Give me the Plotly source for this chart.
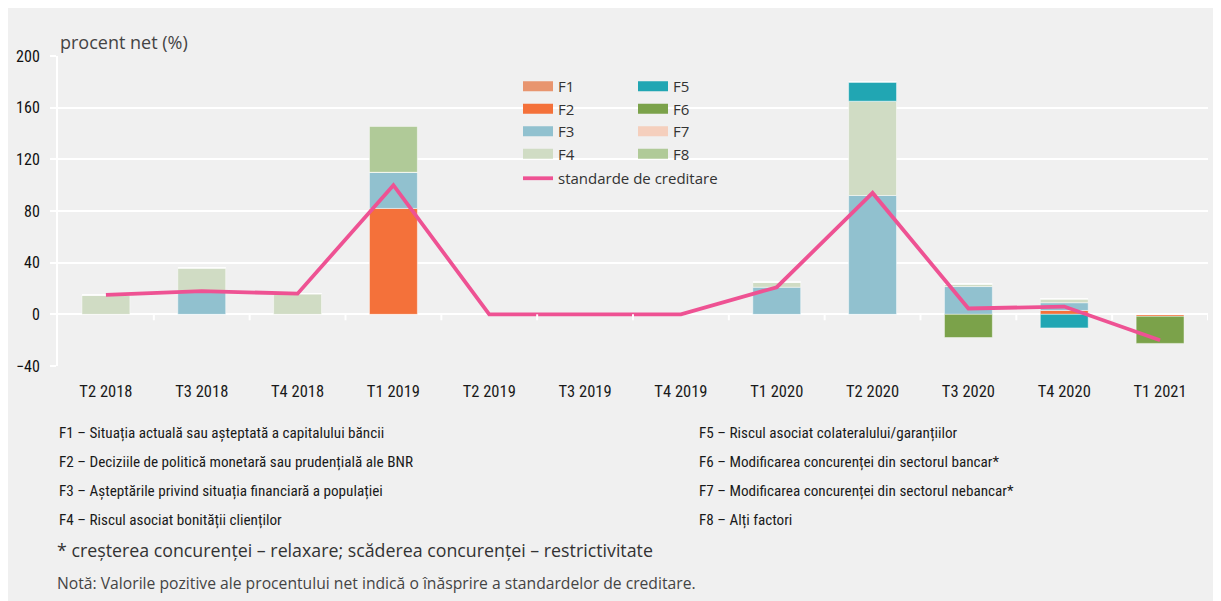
import plotly.graph_objects as go

# quarters and factor contributions (procent net)
quarters = ["T2 2018", "T3 2018", "T4 2018", "T1 2019", "T2 2019", "T3 2019",
            "T4 2019", "T1 2020", "T2 2020", "T3 2020", "T4 2020", "T1 2021"]
f1 = [0, 0, 0, 0, 0, 0, 0, 0, 0, 0, 0, 0]
f2 = [0, 0, 0, 82, 0, 0, 0, 0, 0, 0, 3, -1.5]
f3 = [0, 18, 0, 28, 0, 0, 0, 21, 92, 21.5, 6, 0]
f4 = [15, 18, 16, 0, 0, 0, 0, 4, 73, 2, 3, 0]
f5 = [0, 0, 0, 0, 0, 0, 0, 0, 15, 0, -10.5, 0]
f6 = [0, 0, 0, 0, 0, 0, 0, 0, 0, -18, 0, -21]
f7 = [0, 0, 0, 0, 0, 0, 0, 0, 0, 0, 0, 0]
f8 = [0, 0, 0, 35.5, 0, 0, 0, 0, 0, 0, 0, 0]
standarde = [15, 18, 16, 100, 0, 0, 0, 21, 94, 4.5, 6, -20]

factor_names = ["F1", "F2", "F3", "F4", "F5", "F6", "F7", "F8"]
factor_vals = [f1, f2, f3, f4, f5, f6, f7, f8]
factor_cols = ["#E8956F", "#F4713A", "#91C1CF", "#D0DCC4",
               "#21A6B3", "#7BA24A", "#F5CFBD", "#B0CA98"]

desc_left = ["F1 – Situația actuală sau așteptată a capitalului băncii",
             "F2 – Deciziile de politică monetară sau prudențială ale BNR",
             "F3 – Așteptările privind situația financiară a populației",
             "F4 – Riscul asociat bonității clienților"]
desc_right = ["F5 – Riscul asociat colateralului/garanțiilor",
              "F6 – Modificarea concurenței din sectorul bancar*",
              "F7 – Modificarea concurenței din sectorul nebancar*",
              "F8 – Alți factori"]

NARROW = "Roboto Condensed, Liberation Sans Narrow, sans-serif"
REG = "Open Sans, Noto Sans, sans-serif"
BG = "#f0f0f0"

W, H = 1221, 601
ML, MR, MT, MB = 50, 21, 48, 243
PW, PH = W - ML - MR, H - MT - MB
OFF = 8  # page margin of the browser


def px_x(px):
    return (px - OFF - ML) / PW


def px_y(py):
    return (H - MB - (py - OFF)) / PH


xs = list(range(len(quarters)))
fig = go.Figure()

for name, vals, col in zip(factor_names, factor_vals, factor_cols):
    fig.add_trace(go.Bar(x=xs, y=vals, name=name, marker_color=col,
                         marker_line=dict(width=0.8, color="rgba(255,255,255,0.6)"),
                         width=0.5, showlegend=False))

# legend entries with line swatches
for i, (name, col) in enumerate(zip(factor_names, factor_cols)):
    fig.add_trace(go.Scatter(x=[None], y=[None], mode="lines", name=name,
                             line=dict(color=col, width=11),
                             legend="legend" if i < 4 else "legend2"))

fig.add_trace(go.Scatter(x=xs, y=standarde, mode="lines", name="standarde de creditare",
                         line=dict(color="#EE5293", width=3.8), legend="legend3"))

shapes = [
    dict(type="rect", xref="paper", yref="paper", x0=px_x(489), x1=px_x(741),
         y0=px_y(190), y1=px_y(74), fillcolor=BG, line_width=0, layer="between"),
]
for i in range(len(quarters)):
    shapes.append(dict(type="line", xref="x", yref="y", x0=i + 0.5, x1=i + 0.5,
                       y0=0, y1=-4.6, line=dict(color="white", width=2)))

ann = [dict(text="procent net (%)", x=px_x(58), y=px_y(42), xanchor="left",
            yanchor="middle", font=dict(family=REG, size=18, color="#444"))]
rows = [433, 462, 491, 520]
for t, r in zip(desc_left, rows):
    ann.append(dict(text=t, x=px_x(57), y=px_y(r), xanchor="left", yanchor="middle",
                    font=dict(family=NARROW, size=15.2, color="#1a1a1a")))
for t, r in zip(desc_right, rows):
    ann.append(dict(text=t, x=px_x(697), y=px_y(r), xanchor="left", yanchor="middle",
                    font=dict(family=NARROW, size=15.2, color="#1a1a1a")))
ann.append(dict(text="* creșterea concurenței – relaxare; scăderea concurenței – restrictivitate",
                x=px_x(55), y=px_y(550), xanchor="left", yanchor="middle",
                font=dict(family=REG, size=17.8, color="#333")))
ann.append(dict(text="Notă: Valorile pozitive ale procentului net indică o înăsprire a standardelor de creditare.",
                x=px_x(55), y=px_y(583), xanchor="left", yanchor="middle",
                font=dict(family=REG, size=15.7, color="#444")))
for a in ann:
    a.update(xref="paper", yref="paper", showarrow=False)

leg_common = dict(xanchor="left", yanchor="top", bgcolor="rgba(0,0,0,0)",
                  font=dict(family=REG, size=15, color="#333"), tracegroupgap=0)

fig.update_layout(
    width=W, height=H,
    margin=dict(l=ML, r=MR, t=MT, b=MB),
    paper_bgcolor=BG, plot_bgcolor=BG,
    barmode="relative",
    shapes=shapes, annotations=ann,
    legend=dict(x=px_x(518), y=px_y(70), **leg_common),
    legend2=dict(x=px_x(633), y=px_y(70), **leg_common),
    legend3=dict(x=px_x(518), y=px_y(162), **leg_common),
    xaxis=dict(range=[-0.5, len(quarters) - 0.5], tickvals=xs, ticktext=quarters,
               showgrid=False, zeroline=False, showline=False, ticks="",
               tickfont=dict(family=NARROW, size=16.5, color="#1a1a1a"),
               ticklabelstandoff=13, automargin=False),
    yaxis=dict(range=[-40, 200], tickvals=[-40, 0, 40, 80, 120, 160, 200],
               showgrid=True, gridcolor="white", gridwidth=1.5,
               zeroline=True, zerolinecolor="white", zerolinewidth=2,
               showline=True, linecolor="white", linewidth=2,
               ticks="outside", tickcolor="white", ticklen=6, tickwidth=1.5,
               tickfont=dict(family=NARROW, size=16, color="#111"),
               ticklabelstandoff=7, automargin=False),
)

fig.write_html("out.html")
